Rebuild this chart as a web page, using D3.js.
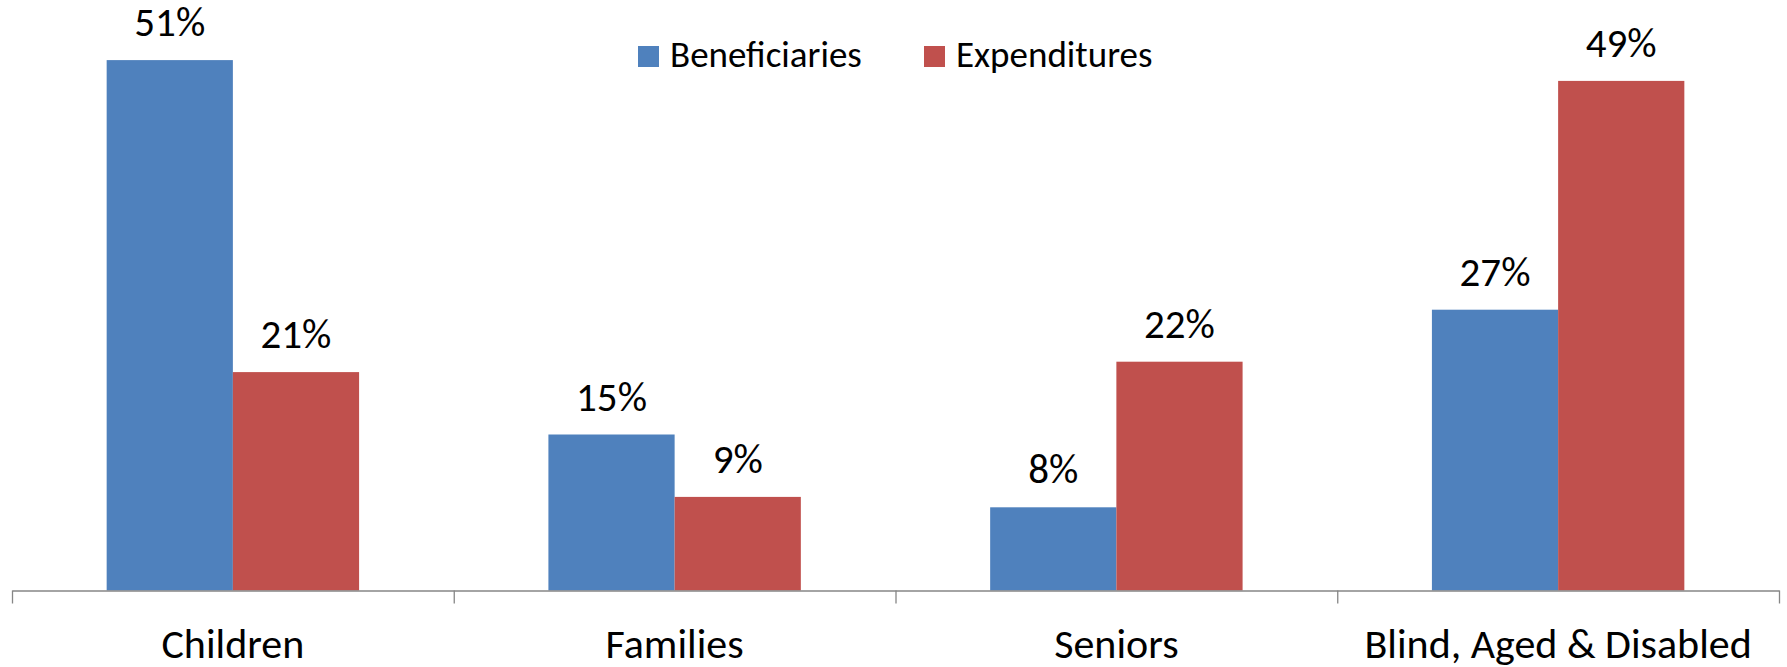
<!DOCTYPE html>
<html><head><meta charset="utf-8">
<script src="https://cdn.jsdelivr.net/npm/d3@7"></script>
<style>body{margin:0;background:#fff}</style>
</head><body>
<svg id="c" width="1787" height="667"></svg>
<script>
// ---- data ----
const categories = ["Children", "Families", "Seniors", "Blind, Aged & Disabled"];
const seriesNames = ["Beneficiaries", "Expenditures"];
const beneficiaries = [0.51, 0.15, 0.08, 0.27];
const expenditures = [0.21, 0.09, 0.22, 0.49];
const seriesColors = ["#4F81BD", "#C0504D"];

const series = [beneficiaries, expenditures];
const FONT = "Carlito, Calibri, Lato, sans-serif";

const svg = d3.select("#c");
const W = 1787, H = 667;
const left = 12, right = 1779, baseY = 590.5;

const x0 = d3.scaleBand().domain(categories).range([left, right]).padding(0);
const x1 = d3.scaleBand().domain(seriesNames).range([0, x0.bandwidth()]).paddingInner(0).paddingOuter(0.75);
const y = d3.scaleLinear().domain([0, 0.55]).range([baseY, baseY - 0.55 * 1040]);

const fmt = d3.format(".0%");

// bars
const g = svg.append("g");
categories.forEach((c, i) => {
  seriesNames.forEach((s, j) => {
    const v = series[j][i];
    g.append("rect")
      .attr("x", x0(c) + x1(s))
      .attr("y", y(v))
      .attr("width", x1.bandwidth())
      .attr("height", y(0) - y(v))
      .attr("fill", seriesColors[j]);
    g.append("text")
      .attr("x", x0(c) + x1(s) + x1.bandwidth() / 2)
      .attr("y", y(v) - 24)
      .attr("text-anchor", "middle")
      .attr("font-family", FONT)
      .attr("font-size", 41)
      .attr("fill", "#000")
      .text(fmt(v));
  });
});

// category axis: line + boundary ticks
const xb = d3.scaleLinear().domain([0, categories.length]).range([left, right]);
const axTicks = svg.append("g").attr("transform", `translate(0,${baseY})`)
  .call(d3.axisBottom(xb).tickValues(d3.range(categories.length + 1)).tickFormat("").tickSize(13).tickSizeOuter(0));
axTicks.selectAll("path,line").attr("stroke", "#868686").attr("stroke-width", 1.3);

const axLabels = svg.append("g").attr("transform", `translate(0,${baseY})`)
  .call(d3.axisBottom(x0).tickSize(0).tickPadding(0));
axLabels.select(".domain").remove();
axLabels.selectAll("text")
  .attr("font-family", FONT)
  .attr("font-size", 42)
  .attr("fill", "#000")
  .attr("dy", null)
  .attr("y", 658 - baseY);

// legend
const legendX = [638, 924];
const leg = svg.append("g");
seriesNames.forEach((s, j) => {
  leg.append("rect").attr("x", legendX[j]).attr("y", 46).attr("width", 21).attr("height", 21).attr("fill", seriesColors[j]);
  leg.append("text").attr("x", legendX[j] + 32).attr("y", 66.7)
    .attr("font-family", FONT).attr("font-size", 37).attr("fill", "#000").text(s);
});
</script>
</body></html>
